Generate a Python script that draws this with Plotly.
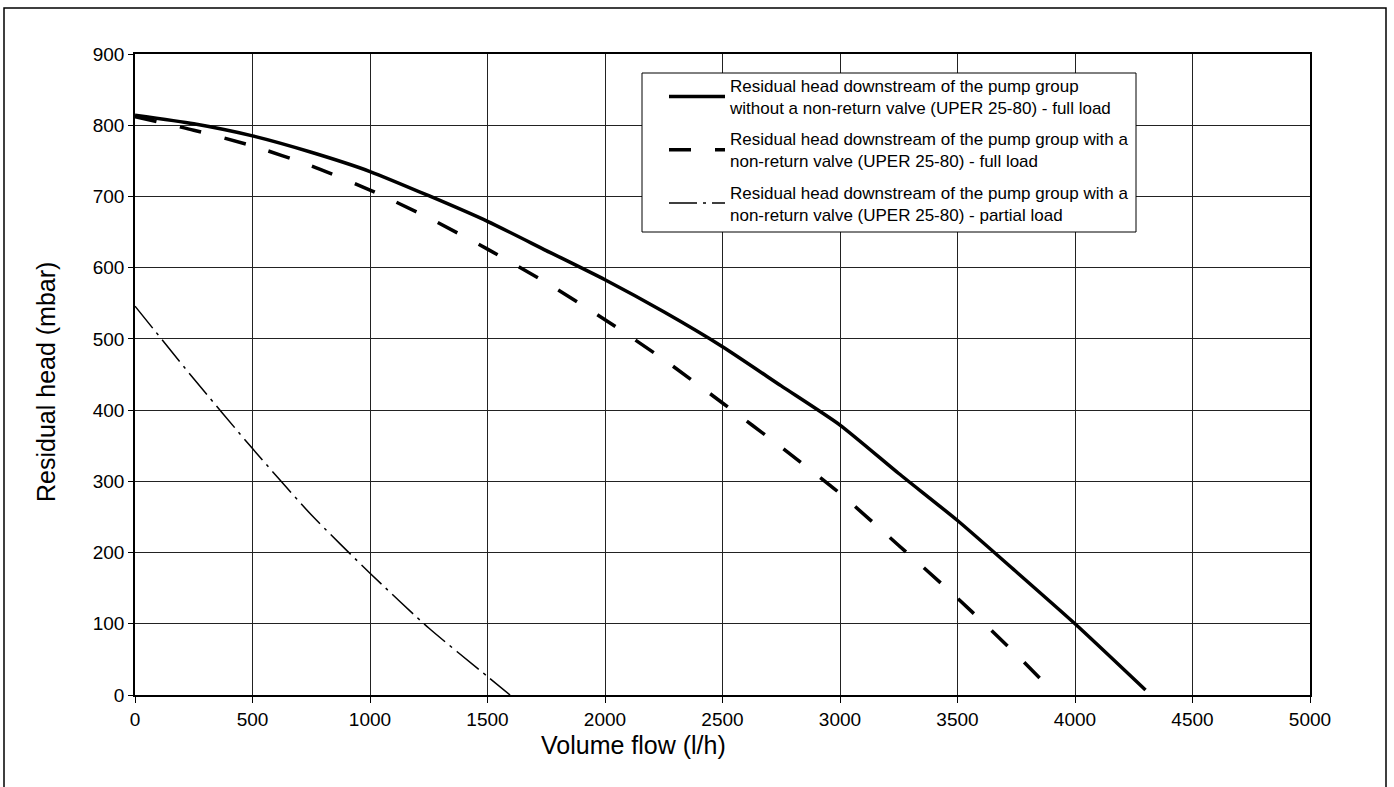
import plotly.graph_objects as go

# ---- data ----
flow_full_novalve = [0, 250, 500, 750, 1000, 1250, 1500, 1750, 2000, 2250, 2500, 2750, 3000, 3250, 3500, 3750, 4000, 4300]
head_full_novalve = [814, 802, 785, 762, 735, 701, 665, 624, 583, 538, 489, 434, 379, 311, 245, 173, 100, 7]

flow_full_valve = [0, 250, 500, 750, 1000, 1250, 1500, 1750, 2000, 2250, 2500, 2750, 3000, 3250, 3500, 3750, 3920]
head_full_valve = [812, 793, 771, 743, 709, 670, 626, 579, 527, 471, 410, 348, 283, 210, 136, 57, 0]

flow_partial_valve = [0, 250, 500, 750, 1000, 1250, 1500, 1596]
head_partial_valve = [546, 444, 346, 253, 171, 94, 26, 0]

names = [
    "Residual head downstream of the pump group<br>without a non-return valve (UPER 25-80) - full load",
    "Residual head downstream of the pump group with a<br>non-return valve (UPER 25-80) - full load",
    "Residual head downstream of the pump group with a<br>non-return valve (UPER 25-80) - partial load",
]

x_ticks = [0, 500, 1000, 1500, 2000, 2500, 3000, 3500, 4000, 4500, 5000]
y_ticks = [0, 100, 200, 300, 400, 500, 600, 700, 800, 900]

FONT = "Liberation Sans, Arial, sans-serif"

fig = go.Figure()
fig.add_trace(go.Scatter(x=flow_full_novalve, y=head_full_novalve, mode="lines",
                         line=dict(color="black", width=3.5, shape="spline", smoothing=0.6),
                         name=names[0], legendgroup="a"))
fig.add_trace(go.Scatter(x=flow_full_valve, y=head_full_valve, mode="lines",
                         line=dict(color="black", width=3.5, dash="22px,24px", shape="spline", smoothing=0.6),
                         name=names[1], legendgroup="b"))
fig.add_trace(go.Scatter(x=flow_partial_valve, y=head_partial_valve, mode="lines",
                         line=dict(color="black", width=1.5, dash="28px,6px,3px,6px", shape="spline", smoothing=0.6),
                         name=names[2], legendgroup="c"))

L, R, T, B = 135, 84, 54, 92
W, H = 1394, 787
pw, ph = W - L - R, H - T - B

def px_x(p):
    return (p - L) / pw

def px_y(p):
    return (H - B - p) / ph

fig.update_layout(
    width=W, height=H,
    margin=dict(l=L, r=R, t=T, b=B),
    paper_bgcolor="white", plot_bgcolor="white",
    font=dict(family=FONT, color="black"),
    showlegend=True,
    legend=dict(
        x=px_x(664), y=px_y(68), xanchor="left", yanchor="top",
        bgcolor="rgba(0,0,0,0)", borderwidth=0,
        font=dict(size=17, family=FONT, color="black"),
        itemwidth=56, tracegroupgap=6, traceorder="grouped",
    ),
    xaxis=dict(
        range=[0, 5000], tickvals=x_ticks, ticktext=[str(v) for v in x_ticks],
        showgrid=True, gridcolor="#222", gridwidth=1,
        showline=True, linecolor="black", linewidth=1.5, mirror=True,
        ticks="outside", ticklen=6, tickcolor="black", tickwidth=1,
        tickfont=dict(size=19, family=FONT), zeroline=False,
    ),
    yaxis=dict(
        range=[0, 900], tickvals=y_ticks, ticktext=[str(v) for v in y_ticks],
        showgrid=True, gridcolor="#222", gridwidth=1,
        showline=True, linecolor="black", linewidth=1.5, mirror=True,
        ticks="outside", ticklen=5, tickcolor="black", tickwidth=1,
        tickfont=dict(size=19, family=FONT), zeroline=False,
    ),
    annotations=[
        dict(text="Volume flow (l/h)", xref="paper", yref="paper",
             x=px_x(633), y=px_y(745), xanchor="center", yanchor="middle",
             showarrow=False, font=dict(size=25, family=FONT, color="black")),
        dict(text="Residual head (mbar)", xref="paper", yref="paper",
             x=px_x(46), y=px_y(382), xanchor="center", yanchor="middle", textangle=-90,
             showarrow=False, font=dict(size=25, family=FONT, color="black")),
    ],
    shapes=[
        # outer frame of the figure
        dict(type="rect", xref="paper", yref="paper",
             x0=px_x(4), x1=px_x(1386), y0=px_y(800), y1=px_y(8),
             line=dict(color="black", width=1.5), fillcolor="rgba(0,0,0,0)", layer="below"),
        # legend box
        dict(type="rect", xref="paper", yref="paper",
             x0=px_x(642), x1=px_x(1136), y0=px_y(232), y1=px_y(73),
             line=dict(color="black", width=1), fillcolor="white", layer="above"),
    ],
)

fig.write_html("out.html", config={"displayModeBar": False},
               post_script="document.body.style.margin='0';")
